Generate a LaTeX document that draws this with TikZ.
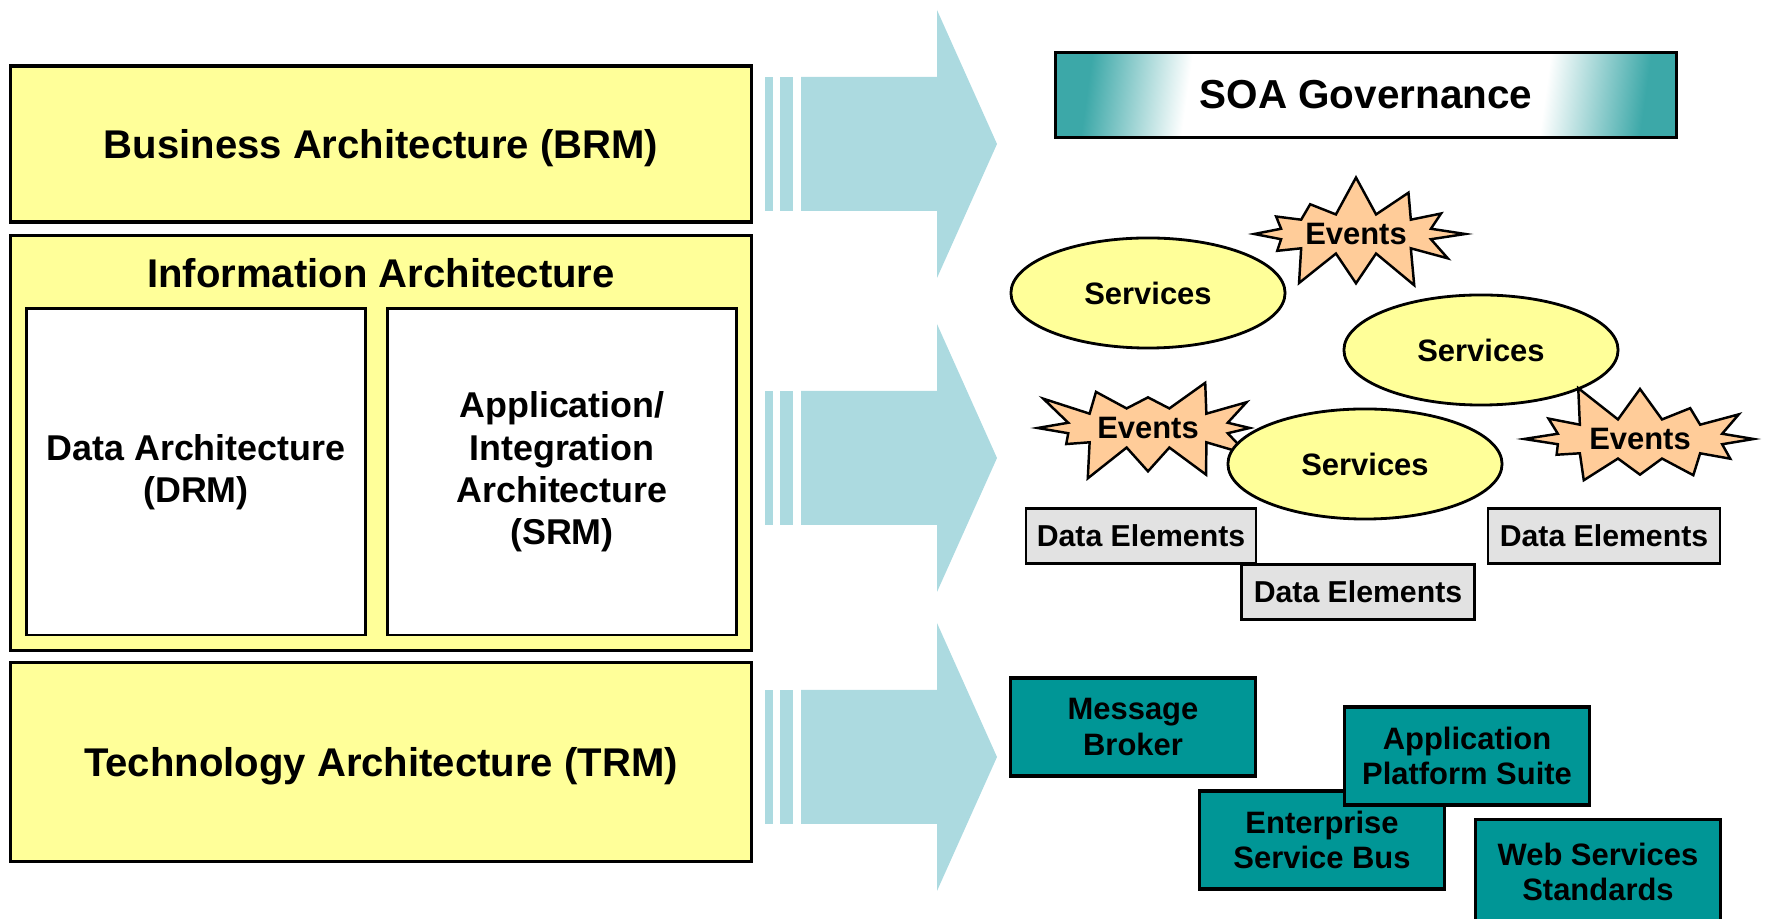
\documentclass[tikz,border=0pt]{standalone}
\usepackage{fontspec}
\setmainfont{Liberation Sans}
\usepackage{tikz}
\usetikzlibrary{shapes.geometric}
\usetikzlibrary{shapes.symbols}
\usepackage{xcolor}
\definecolor{archyellow}{RGB}{255,255,153}
\definecolor{arrowcyan}{RGB}{172,218,224}
\definecolor{eventpeach}{RGB}{255,204,153}
\definecolor{dategray}{RGB}{226,226,226}
\definecolor{techteal}{RGB}{0,150,150}
\definecolor{soateal}{RGB}{60,168,168}
\pgfdeclarehorizontalshading{soashade}{100bp}{color(0bp)=(soateal); color(25bp)=(soateal); color(34bp)=(white); color(66bp)=(white); color(75bp)=(soateal); color(100bp)=(soateal)}

\begin{document}
\begin{tikzpicture}[x=0.01cm,y=-0.01cm]
\tikzstyle{layer} =[draw, line width=0.9pt, fill=archyellow, inner sep=0pt, text depth=0pt, minimum width=7.4cm, font=\bfseries\fontsize{11.4}{13}\selectfont]
\tikzstyle{sublayer} =[draw, line width=0.8pt, fill=white, align=center, inner sep=0pt, minimum height=3.26cm, font=\bfseries\fontsize{10.2}{12}\selectfont]
\tikzstyle{service} =[ellipse, draw, line width=0.8pt, fill=archyellow, inner sep=0pt, minimum width=2.74cm, minimum height=1.1cm, font=\bfseries\fontsize{8.8}{10}\selectfont]
\tikzstyle{event} =[starburst, starburst points=12, starburst point height=0.4cm, random starburst=7, draw, line width=0.7pt, fill=eventpeach, inner sep=1pt, minimum width=2.45cm, minimum height=1.05cm, font=\bfseries\fontsize{8.8}{10}\selectfont]
\tikzstyle{dataelem} =[draw, line width=0.7pt, fill=dategray, inner sep=0pt, minimum width=2.3cm, minimum height=0.55cm, font=\bfseries\fontsize{8.6}{10}\selectfont]
\tikzstyle{tech} =[draw, line width=1pt, fill=techteal, align=center, inner sep=0pt, minimum width=2.45cm, minimum height=0.98cm, font=\bfseries\fontsize{8.8}{10}\selectfont]
\clip (0,0) rectangle (1765,919);

\foreach \c in {144,458,757}{
\fill[arrowcyan] (765,\c-67) rectangle (773,\c+67);
\fill[arrowcyan] (780,\c-67) rectangle (793,\c+67);
\fill[arrowcyan] (801,\c-67) -- (937,\c-67) -- (937,\c-134) -- (997,\c) -- (937,\c+134) -- (937,\c+67) -- (801,\c+67) -- cycle;
}

\node[layer, minimum height=1.56cm](brm) at (381,144){Business Architecture (BRM)};
\node[layer, minimum height=4.14cm](info) at (381,443){};
\node[font=\bfseries\fontsize{11.4}{13}\selectfont](infotitle) at (381,273){Information Architecture};
\node[sublayer, minimum width=3.39cm](drm) at (196,472){Data Architecture\\(DRM)};
\node[sublayer, minimum width=3.48cm](srm) at (562,472){Application/\\Integration\\Architecture\\(SRM)};
\node[layer, minimum height=1.99cm](trm) at (381,762){Technology Architecture (TRM)};

\node[draw, line width=1pt, shading=soashade, shading angle=-8, minimum width=6.21cm, minimum height=0.85cm, inner sep=0pt, font=\bfseries\fontsize{11.5}{13}\selectfont](soa) at (1366,95){SOA Governance};

\node[service](srv1) at (1148,293){Services};
\node[event, minimum width=2.35cm, minimum height=1.1cm](ev1) at (1356,234){Events};
\node[service](srv2) at (1481,350){Services};
\node[event, minimum width=2.5cm, random starburst=11](ev3) at (1640,439){Events};
\node[event, random starburst=23](ev2) at (1148,428){Events};
\node[service](srv3) at (1365,464){Services};

\node[dataelem](de1) at (1141,536){Data Elements};
\node[dataelem, minimum width=2.33cm](de2) at (1358,592){Data Elements};
\node[dataelem, minimum width=2.32cm](de3) at (1604,536){Data Elements};

\node[tech](mb) at (1133,727){Message\\Broker};
\node[tech](esb) at (1322,840){Enterprise\\Service Bus};
\node[tech](aps) at (1467,756){Application\\Platform Suite};
\node[tech, minimum height=1.05cm](wss) at (1598,872){Web Services\\Standards};
\end{tikzpicture}
\end{document}
